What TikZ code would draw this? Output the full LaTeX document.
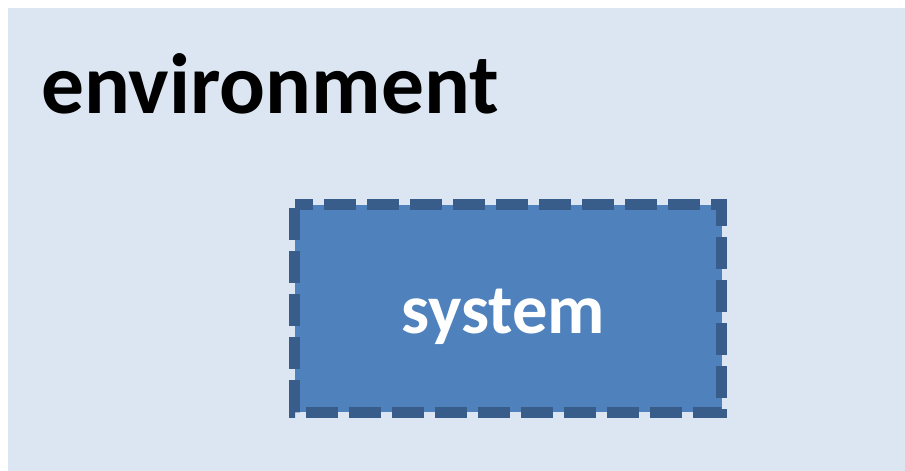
\documentclass[tikz,border=0pt]{standalone}
\usepackage{fontspec}
\setmainfont{Carlito}
\definecolor{envbg}{HTML}{DCE6F2}
\definecolor{sysfill}{HTML}{4F81BD}
\definecolor{sysline}{HTML}{385D8A}
\tikzset{
  envlabel/.style={inner sep=0pt, anchor=base west, font=\fontsize{85.5}{90}\selectfont\bfseries, text=black},
  sysbox/.style={draw=sysline, fill=sysfill, line width=11pt, dash pattern=on 32pt off 11pt, dash phase=-3.5pt, inner sep=0pt},
  syslabel/.style={inner sep=0pt, anchor=base, font=\fontsize{70.5}{75}\selectfont\bfseries, text=white}
}
\begin{document}
\begin{tikzpicture}[x=1pt,y=-1pt]
\useasboundingbox (0,0) rectangle (905,471);
\fill[envbg] (8,8) rectangle (905,471);
\node[envlabel] (env) at (41,113) {environment};
\draw[sysbox] (294.5,204.5) rectangle (721.5,412);
\coordinate (syscenter) at (503,333);
\node[syslabel] (sys) at (syscenter) {system};
\end{tikzpicture}
\end{document}
